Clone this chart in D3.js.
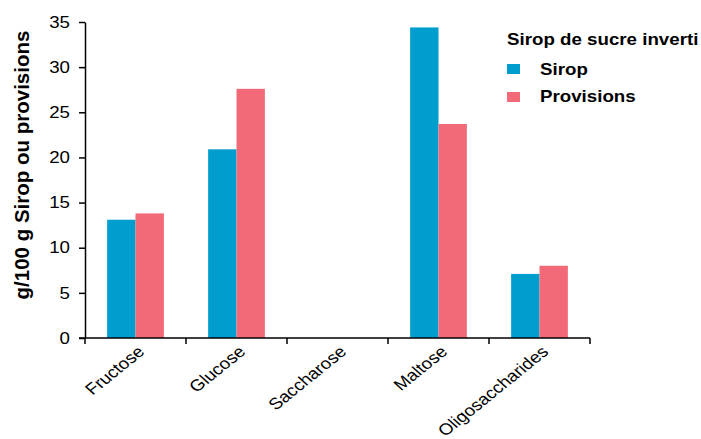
<!DOCTYPE html>
<html><head><meta charset="utf-8">
<script src="https://cdn.jsdelivr.net/npm/d3@7"></script>
<style>body{margin:0;background:#fff;} text{font-family:"Liberation Sans",Arial,sans-serif;fill:#000;}</style>
</head><body>
<svg id="c" width="701" height="439"></svg>
<script>
const categories = ["Fructose","Glucose","Saccharose","Maltose","Oligosaccharides"];
const seriesNames = ["Sirop","Provisions"];
const sirop = [13.1, 20.9, 0, 34.4, 7.1];
const provisions = [13.8, 27.6, 0, 23.7, 8.0];
const yTicks = [0,5,10,15,20,25,30,35];
const colors = ["#009ECE","#F26A78"];

(function(){
const svg = d3.select("#c");
const mLeft = 85, mRight = 590, mTop = 22, mBottom = 338;
const sx = 1.17; // horizontal stretch of text in the reference
const x = d3.scaleBand().domain(categories).range([mLeft,mRight]).paddingInner(0).paddingOuter(0);
const x1 = d3.scaleBand().domain(seriesNames).range([0,x.bandwidth()]).paddingOuter(0.78).paddingInner(0);
const y = d3.scaleLinear().domain([0,35]).range([mBottom,mTop]);
const data = [sirop, provisions];

const g = svg.append("g");
categories.forEach((c,i)=>{
  seriesNames.forEach((s,j)=>{
    g.append("rect")
      .attr("x", x(c)+x1(s))
      .attr("width", x1.bandwidth())
      .attr("y", y(data[j][i]))
      .attr("height", mBottom - y(data[j][i]))
      .attr("fill", colors[j]);
  });
});

// y axis
const ya = svg.append("g").attr("transform",`translate(${mLeft},0)`)
  .call(d3.axisLeft(y).tickValues(yTicks).tickSize(6).tickSizeOuter(0).tickFormat(""));
ya.select(".domain").attr("stroke","#000").attr("stroke-width",1.5);
ya.selectAll(".tick line").attr("stroke","#000").attr("stroke-width",1.5);
yTicks.forEach(t=>{
  svg.append("text").attr("transform",`translate(70,${y(t)}) scale(${sx},1)`)
    .attr("text-anchor","end").attr("dy","0.36em").attr("font-size",16).text(t);
});

// x axis
const xa = svg.append("g").attr("transform",`translate(0,${mBottom})`);
xa.append("line").attr("x1",mLeft-6).attr("x2",mRight).attr("y1",0).attr("y2",0).attr("stroke","#000").attr("stroke-width",1.5);
const bounds = categories.map(c=>x(c)).concat([mRight]);
bounds.forEach(b=>{
  xa.append("line").attr("x1",b).attr("x2",b).attr("y1",0).attr("y2",6).attr("stroke","#000").attr("stroke-width",1.5);
});
categories.forEach(c=>{
  const cx = x(c)+x.bandwidth()/2 + 10;
  xa.append("text").attr("transform",`translate(${cx},15) scale(${sx},1) rotate(-43.4)`)
    .attr("text-anchor","end").attr("font-size",16).text(c);
});

// y title
svg.append("text").attr("transform","translate(29,165) rotate(-90)")
  .attr("text-anchor","middle").attr("font-size",20.5).attr("font-weight","bold")
  .text("g/100 g Sirop ou provisions");

// legend
const lg = svg.append("g");
lg.append("text").attr("transform",`translate(507,45) scale(${sx},1)`).attr("font-size",16).attr("font-weight","bold").text("Sirop de sucre inverti");
seriesNames.forEach((s,j)=>{
  lg.append("rect").attr("x",507).attr("y",64+j*28).attr("width",13).attr("height",10).attr("fill",colors[j]);
  lg.append("text").attr("transform",`translate(540,${75+j*27}) scale(${sx},1)`).attr("font-size",16).attr("font-weight","bold").text(s);
});
})();
</script>
</body></html>
